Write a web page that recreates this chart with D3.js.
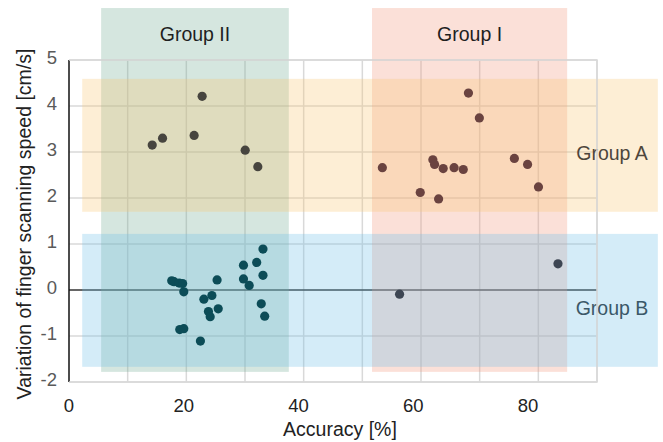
<!DOCTYPE html>
<html>
<head>
<meta charset="utf-8">
<script src="https://cdn.jsdelivr.net/npm/d3@7"></script>
<style>
  html, body { margin: 0; padding: 0; background: #fff; }
  svg { display: block; font-family: "Liberation Sans", Arial, sans-serif; }
</style>
</head>
<body>
<svg id="chart" width="663" height="442"></svg>
<script>
// axis ticks
const xTicks = [0, 20, 40, 60, 80];
const yTicks = [-2, -1, 0, 1, 2, 3, 4, 5];

// group bands (data units)
const colGroups = ['Group II', 'Group I'];
const colStart = [5.6, 52.8];
const colEnd = [38.3, 86.8];
const colTop = 6.13, colBottom = -1.78;

const rowGroups = ['Group A', 'Group B'];
const rowTop = [4.59, 1.22];
const rowBottom = [1.70, -1.67];
const rowLeft = 2.3, rowRight = 102.6;

// points: accuracy [%] / speed variation [cm/s]
const accIIA = [14.5, 16.3, 21.8, 23.2, 30.7, 32.9];
const spdIIA = [3.15, 3.30, 3.36, 4.21, 3.04, 2.68];

const accIA = [69.6, 71.5, 54.6, 63.4, 63.7, 65.2, 67.1, 68.7, 77.6, 79.9, 81.8, 61.2, 64.4];
const spdIA = [4.28, 3.74, 2.66, 2.83, 2.73, 2.64, 2.66, 2.62, 2.86, 2.73, 2.24, 2.12, 1.98];

const accIIB = [17.9, 18.3, 19.2, 19.8, 20.0, 25.8, 23.5, 24.9, 24.3, 24.6, 26.0,
                19.3, 20.0, 22.9, 30.4, 30.4, 31.4, 32.7, 33.8, 33.8, 33.5, 34.1];
const spdIIB = [0.20, 0.18, 0.15, 0.14, -0.04, 0.22, -0.20, -0.12, -0.47, -0.58, -0.41,
                -0.86, -0.84, -1.11, 0.54, 0.24, 0.10, 0.60, 0.89, 0.32, -0.30, -0.57];

const accIB = [57.6, 85.2];
const spdIB = [-0.09, 0.57];

const svg = d3.select('#chart');

const x = d3.scaleLinear().domain([0, 92]).range([69, 597]);
const y = d3.scaleLinear().domain([-2, 5]).range([382, 60]);
// background grid: 9 equal columns across the plot
const gx = d3.scaleLinear().domain([0, 9]).range(x.range());

// grid
const grid = svg.append('g').attr('stroke', '#d9d9d9').attr('stroke-width', 1.5);
grid.selectAll('line.v')
    .data(d3.range(1, 10))
    .join('line')
    .attr('x1', d => gx(d)).attr('x2', d => gx(d))
    .attr('y1', y(5)).attr('y2', y(-2));
grid.selectAll('line.h')
    .data(yTicks.filter(d => d !== 0))
    .join('line')
    .attr('x1', x.range()[0]).attr('x2', x.range()[1])
    .attr('y1', d => y(d)).attr('y2', d => y(d));

// zero line
svg.append('line')
    .attr('x1', x.range()[0]).attr('x2', x.range()[1])
    .attr('y1', y(0)).attr('y2', y(0))
    .attr('stroke', '#333').attr('stroke-width', 1.5);

// column bands
const colColors = ['#73ac94', '#f2987d'];
svg.append('g').selectAll('rect')
    .data(colGroups)
    .join('rect')
    .attr('x', (d, i) => x(colStart[i]))
    .attr('width', (d, i) => x(colEnd[i]) - x(colStart[i]))
    .attr('y', y(colTop))
    .attr('height', y(colBottom) - y(colTop))
    .attr('fill', (d, i) => colColors[i])
    .attr('fill-opacity', 0.3);

// row bands
const rowColors = ['#f8c673', '#70c0e8'];
svg.append('g').selectAll('rect')
    .data(rowGroups)
    .join('rect')
    .attr('x', x(rowLeft))
    .attr('width', x(rowRight) - x(rowLeft))
    .attr('y', (d, i) => y(rowTop[i]))
    .attr('height', (d, i) => y(rowBottom[i]) - y(rowTop[i]))
    .attr('fill', (d, i) => rowColors[i])
    .attr('fill-opacity', 0.3);

// y axis line
svg.append('line')
    .attr('x1', x(0)).attr('x2', x(0))
    .attr('y1', y(5)).attr('y2', y(-2))
    .attr('stroke', '#111').attr('stroke-width', 1.5);

// points
const clusters = [
    { acc: accIIA, spd: spdIIA, color: '#47453f' },
    { acc: accIA, spd: spdIA, color: '#6a4340' },
    { acc: accIIB, spd: spdIIB, color: '#0c4c57' },
    { acc: accIB, spd: spdIB, color: '#3d4653' }
];
clusters.forEach(c => {
    svg.append('g').selectAll('circle')
        .data(c.acc)
        .join('circle')
        .attr('cx', d => x(d))
        .attr('cy', (d, i) => y(c.spd[i]))
        .attr('r', 4.6)
        .attr('fill', c.color);
});

// tick labels
svg.append('g').selectAll('text')
    .data(xTicks)
    .join('text')
    .attr('x', d => x(d))
    .attr('y', 412)
    .attr('text-anchor', 'middle')
    .attr('font-size', 18.5)
    .attr('fill', '#222')
    .text(d => d);

svg.append('g').selectAll('text')
    .data(yTicks)
    .join('text')
    .attr('x', 57)
    .attr('y', d => y(d) - 2)
    .attr('dy', '0.35em')
    .attr('text-anchor', 'end')
    .attr('font-size', 18.5)
    .attr('fill', '#5a5a5a')
    .text(d => d);

// axis titles
svg.append('text')
    .attr('x', 340).attr('y', 436)
    .attr('text-anchor', 'middle')
    .attr('font-size', 19.5)
    .attr('fill', '#222')
    .text('Accuracy [%]');

svg.append('text')
    .attr('transform', 'translate(31,224) rotate(-90)')
    .attr('text-anchor', 'middle')
    .attr('font-size', 19.5)
    .attr('fill', '#222')
    .text('Variation of finger scanning speed [cm/s]');

// group labels
svg.append('g').selectAll('text')
    .data(colGroups)
    .join('text')
    .attr('x', (d, i) => (x(colStart[i]) + x(colEnd[i])) / 2)
    .attr('y', 41)
    .attr('text-anchor', 'middle')
    .attr('font-size', 19.5)
    .attr('fill', '#1f1f1f')
    .text(d => d);

const rowTextColors = ['#4d463c', '#3b5868'];
svg.append('g').selectAll('text')
    .data(rowGroups)
    .join('text')
    .attr('x', 612)
    .attr('y', (d, i) => (y(rowTop[i]) + y(rowBottom[i])) / 2 + 15)
    .attr('text-anchor', 'middle')
    .attr('font-size', 19.5)
    .attr('fill', (d, i) => rowTextColors[i])
    .text(d => d);

// plot frame (top / right / bottom)
svg.append('path')
    .attr('d', `M${x(0)},${y(5)}H${x.range()[1]}V${y(-2)}H${x(0)}`)
    .attr('fill', 'none')
    .attr('stroke', '#d9d9d9')
    .attr('stroke-width', 1.5);
</script>
</body>
</html>
